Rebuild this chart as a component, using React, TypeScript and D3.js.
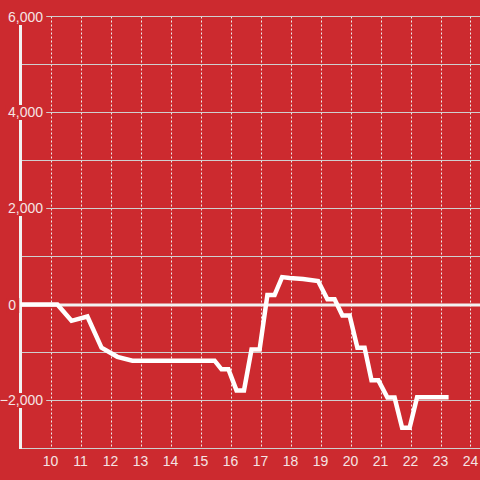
import React, { useEffect, useRef } from "react";
import * as d3 from "d3";

const times = [9, 10.23, 10.7, 11.23, 11.7, 12.23, 12.73, 15.47, 15.7, 15.93, 16.2, 16.45, 16.7, 16.97, 17.23, 17.47, 17.72, 17.97, 18.42, 18.92, 19.23, 19.47, 19.73, 19.97, 20.23, 20.47, 20.7, 20.93, 21.23, 21.47, 21.72, 21.97, 22.22, 23.27];
const values = [0, 0, -340, -250, -900, -1090, -1170, -1170, -1350, -1350, -1790, -1790, -940, -940, 200, 200, 570, 550, 530, 490, 110, 110, -230, -230, -900, -900, -1580, -1580, -1940, -1940, -2570, -2570, -1930, -1930];
const xTicks = [10, 11, 12, 13, 14, 15, 16, 17, 18, 19, 20, 21, 22, 23, 24];
const yGrid = [-3000, -2000, -1000, 0, 1000, 2000, 3000, 4000, 5000, 6000];
const yLabels = [-2000, 0, 2000, 4000, 6000];

const W = 480;
const H = 480;
const BG = "#cc2a2f";
const FONT = "'Liberation Sans', Arial, sans-serif";

export default function App() {
  const ref = useRef<SVGSVGElement>(null);
  useEffect(() => {
    const svg = d3.select(ref.current);
    svg.selectAll("*").remove();
    const x = d3.scaleLinear().domain([9, 24.3]).range([20.5, 479.5]);
    const y = d3.scaleLinear().domain([-3000, 6000]).range([448.5, 16.5]);

    svg.append("rect").attr("width", W).attr("height", H).attr("fill", BG);

    // vertical dotted grid
    svg.selectAll(".vg").data(xTicks).enter().append("line")
      .attr("x1", (d) => Math.round(x(d)) + 0.5).attr("x2", (d) => Math.round(x(d)) + 0.5)
      .attr("y1", y(6000)).attr("y2", y(-3000))
      .attr("stroke", "#eeeeee").attr("stroke-width", 1).attr("stroke-dasharray", "2,2");

    // horizontal grid
    svg.selectAll(".hg").data(yGrid.filter((d) => d !== 0)).enter().append("line")
      .attr("x1", 20).attr("x2", W)
      .attr("y1", (d) => y(d)).attr("y2", (d) => y(d))
      .attr("stroke", "#cfcfcf").attr("stroke-width", 1);

    // zero line
    svg.append("line").attr("x1", 18).attr("x2", W)
      .attr("y1", Math.round(y(0))).attr("y2", Math.round(y(0)))
      .attr("stroke", "#f2f2f2").attr("stroke-width", 3);

    // y axis line
    svg.append("line").attr("x1", 20.5).attr("x2", 20.5)
      .attr("y1", y(6000)).attr("y2", y(-3000) + 0.5)
      .attr("stroke", "#f2f2f2").attr("stroke-width", 3);

    // y labels with background boxes
    const fmt = d3.format(",");
    yLabels.forEach((v) => {
      const g = svg.append("g");
      const py = Math.round(y(v));
      const t = g.append("text")
        .attr("x", v === 0 ? 16 : 43).attr("y", py + 5)
        .attr("text-anchor", "end")
        .attr("font-family", FONT).attr("font-size", 14)
        .attr("fill", "#f5e4e4")
        .text(fmt(v));
      const bb = (t.node() as SVGTextElement).getBBox();
      g.insert("rect", "text")
        .attr("x", bb.x - 2).attr("y", py - 7)
        .attr("width", bb.width + 5).attr("height", 15)
        .attr("fill", BG);
    });

    // x labels
    svg.selectAll(".xl").data(xTicks).enter().append("text")
      .attr("x", (d) => x(d)).attr("y", 466)
      .attr("text-anchor", "middle")
      .attr("font-family", FONT).attr("font-size", 14)
      .attr("fill", "#f5e4e4")
      .text((d) => String(d));

    // data line
    const pts = times.map((t, i) => [t, values[i]] as [number, number]);
    const line = d3.line<[number, number]>().x((d) => x(d[0])).y((d) => y(d[1]));
    svg.append("path").attr("d", line(pts) as string)
      .attr("fill", "none").attr("stroke", "#ffffff").attr("stroke-width", 4.5)
      .attr("stroke-linejoin", "miter");
  }, []);
  return (
    <svg ref={ref} width={W} height={H} style={{ position: "absolute", left: 0, top: 0, display: "block" }} />
  );
}
